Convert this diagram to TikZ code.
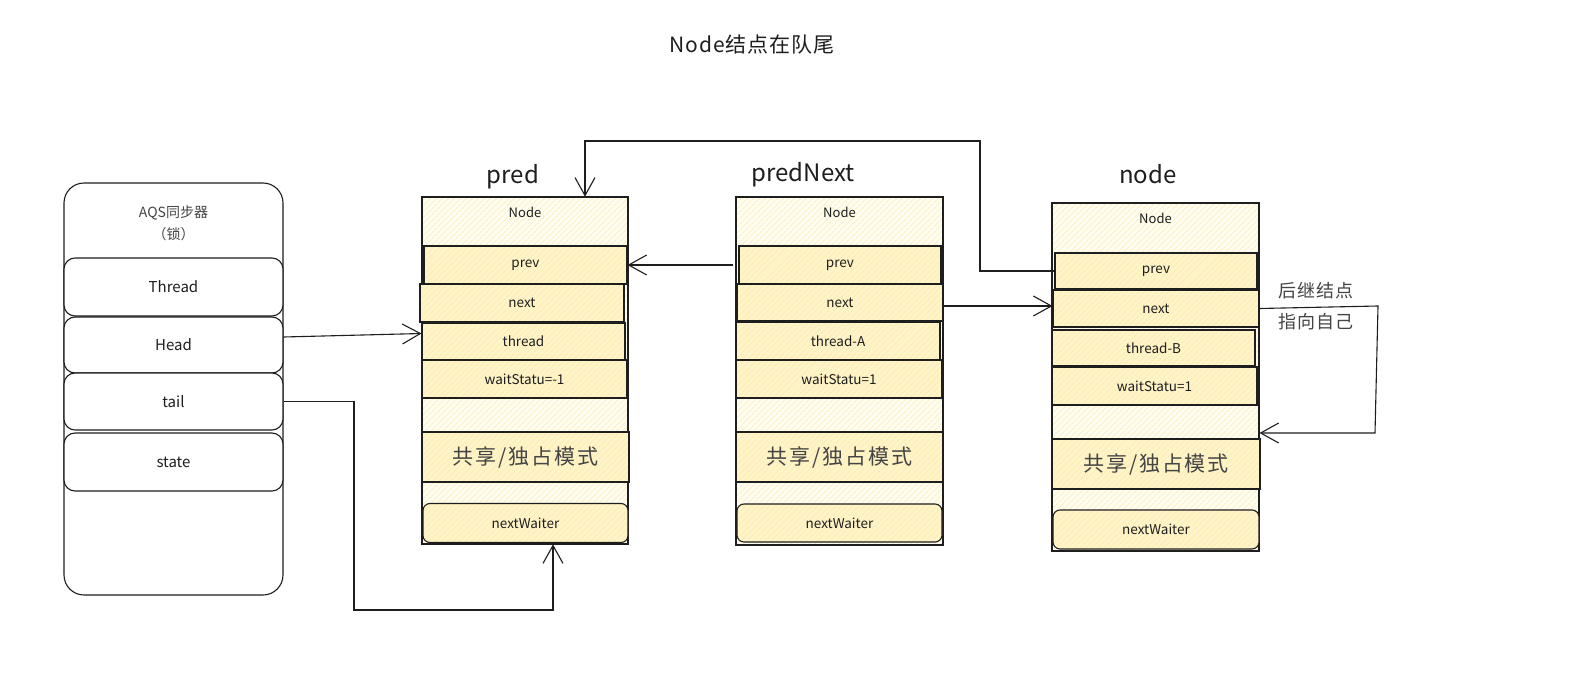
\documentclass[tikz,border=0pt]{standalone}
\usepackage{fontspec}
\setmainfont{Noto Sans CJK SC}
\usetikzlibrary{arrows.meta,patterns.meta}
\definecolor{ink}{HTML}{1E1E1E}
\definecolor{outerfill}{HTML}{FFFCF0}
\definecolor{fieldfill}{HTML}{FFF3C8}
\definecolor{hatch}{HTML}{F8E7A6}
\definecolor{notegray}{HTML}{444444}
\tikzset{
  ln/.style={draw=ink, line width=1.1pt},
  hatched/.style={pattern={Lines[angle=45,distance=4pt,line width=0.6pt]}, pattern color=hatch},
  outerbox/.style={ln, preaction={fill=outerfill}, hatched, inner sep=0pt},
  fieldbox/.style={ln, preaction={fill=fieldfill}, hatched, inner sep=0pt, text=ink, font=\fontsize{13.5}{15}\selectfont},
  modebox/.style={fieldbox, text=notegray, font=\fontsize{21}{24}\selectfont\addfontfeature{LetterSpace=9}},
  waiterbox/.style={fieldbox, rounded corners=7pt},
  aqsbox/.style={ln, fill=white, rounded corners=20pt, inner sep=0pt},
  aqsfield/.style={ln, fill=white, rounded corners=11pt, inner sep=0pt, minimum width=219pt, text=ink, font=\fontsize{15}{18}\selectfont},
  plain/.style={text=ink, inner sep=1pt},
  arr/.style={draw=ink, line width=1.1pt, -{Straight Barb[length=18pt,width=20pt,line width=1.1pt]}},
}
\begin{document}
\begin{tikzpicture}[x=1pt,y=-1pt]
\useasboundingbox (0,0) rectangle (1571,687);
\fill[white] (0,0) rectangle (1571,687);

% title
\node[plain, font=\fontsize{21}{24}\selectfont\addfontfeature{LetterSpace=4}] (title) at (752,45) {Node结点在队尾};

% AQS
\node[aqsbox, minimum width=219pt, minimum height=412pt] (aqs) at (173.5,389) {};
\node[plain, font=\fontsize{14}{17}\selectfont, text=notegray, align=center] (aqslbl) at (173.5,223) {AQS同步器\\[5pt]（锁）};
\node[aqsfield, minimum height=58pt] (athread) at (173.5,287) {Thread};
\node[aqsfield, minimum height=56pt] (ahead) at (173.5,345) {Head};
\node[aqsfield, minimum height=57pt] (atail) at (173.5,401.5) {tail};
\node[aqsfield, minimum height=58pt] (astate) at (173.5,462) {state};

% pred
\node[plain, font=\fontsize{24}{28}\selectfont] (predlbl) at (513,177) {pred};
\node[outerbox, minimum width=206pt, minimum height=347pt] (pred) at (525,370.5) {};
\node[plain, font=\fontsize{13}{15}\selectfont] (pnode) at (525,212) {Node};
\node[fieldbox, minimum width=203pt, minimum height=38pt] (pprev) at (525.5,265) {prev};
\node[fieldbox, minimum width=204pt, minimum height=38pt] (pnext) at (522,303) {next};
\node[fieldbox, minimum width=203pt, minimum height=37pt] (pthread) at (523.5,341.5) {thread};
\node[fieldbox, minimum width=205pt, minimum height=38pt] (pwait) at (524.5,379) {waitStatu=-1};
\node[modebox, minimum width=207pt, minimum height=50pt] (pmode) at (525.5,457) {共享/独占模式};
\node[waiterbox, minimum width=205pt, minimum height=39pt] (pwaiter) at (525.5,523) {nextWaiter};

% predNext
\node[plain, font=\fontsize{24}{28}\selectfont] (pnlbl) at (803,175) {predNext};
\node[outerbox, minimum width=207pt, minimum height=348pt] (prednext) at (839.5,371) {};
\node[plain, font=\fontsize{13}{15}\selectfont] (nnode) at (839.5,212) {Node};
\node[fieldbox, minimum width=202pt, minimum height=38pt] (nprev) at (840,265) {prev};
\node[fieldbox, minimum width=206pt, minimum height=37pt] (nnext) at (840,302.5) {next};
\node[fieldbox, minimum width=204pt, minimum height=38pt] (nthread) at (838,341) {thread-A};
\node[fieldbox, minimum width=206pt, minimum height=38pt] (nwait) at (839,379) {waitStatu=1};
\node[modebox, minimum width=207pt, minimum height=50pt] (nmode) at (839.5,457) {共享/独占模式};
\node[waiterbox, minimum width=205pt, minimum height=38pt] (nwaiter) at (839.5,523) {nextWaiter};

% node
\node[plain, font=\fontsize{24}{28}\selectfont] (nodelbl) at (1148,174) {node};
\node[outerbox, minimum width=207pt, minimum height=348pt] (node) at (1155.5,377) {};
\node[plain, font=\fontsize{13}{15}\selectfont] (xnode) at (1155.5,218) {Node};
\node[fieldbox, minimum width=202pt, minimum height=36pt] (xprev) at (1156,271) {prev};
\node[fieldbox, minimum width=206pt, minimum height=37pt] (xnext) at (1156,308.5) {next};
\node[fieldbox, minimum width=203pt, minimum height=36pt] (xthread) at (1153.5,348) {thread-B};
\node[fieldbox, minimum width=205pt, minimum height=38pt] (xwait) at (1154.5,386) {waitStatu=1};
\node[modebox, minimum width=208pt, minimum height=50pt] (xmode) at (1156,464) {共享/独占模式};
\node[waiterbox, minimum width=206pt, minimum height=39pt] (xwaiter) at (1156,529.5) {nextWaiter};

% note
\node[plain, font=\fontsize{18}{22}\selectfont\addfontfeature{LetterSpace=6}, text=notegray] (note1) at (1316,291) {后继结点};
\node[plain, font=\fontsize{18}{22}\selectfont\addfontfeature{LetterSpace=6}, text=notegray] (note2) at (1316,322) {指向自己};

% connectors
\draw[arr] ([yshift=8pt]ahead.east) -- ([yshift=8pt]pthread.west);
\draw[arr] (atail.east) -- (354,401.5) -- (354,610) -- (553,610) -- ([xshift=28pt]pred.south);
\draw[arr] ([xshift=-5pt]nprev.west) -- (pprev.east);
\draw[arr] ([yshift=-3.5pt]nnext.east) -- ([yshift=2.5pt]xnext.west);
\draw[arr] (xprev.west) -- (980,271) -- (980,141) -- (585,141) -- ([xshift=60pt]pred.north);
\draw[arr] (xnext.east) -- (1378,306) -- (1375,433) -- ([yshift=-56pt]node.east);
\end{tikzpicture}
\end{document}
